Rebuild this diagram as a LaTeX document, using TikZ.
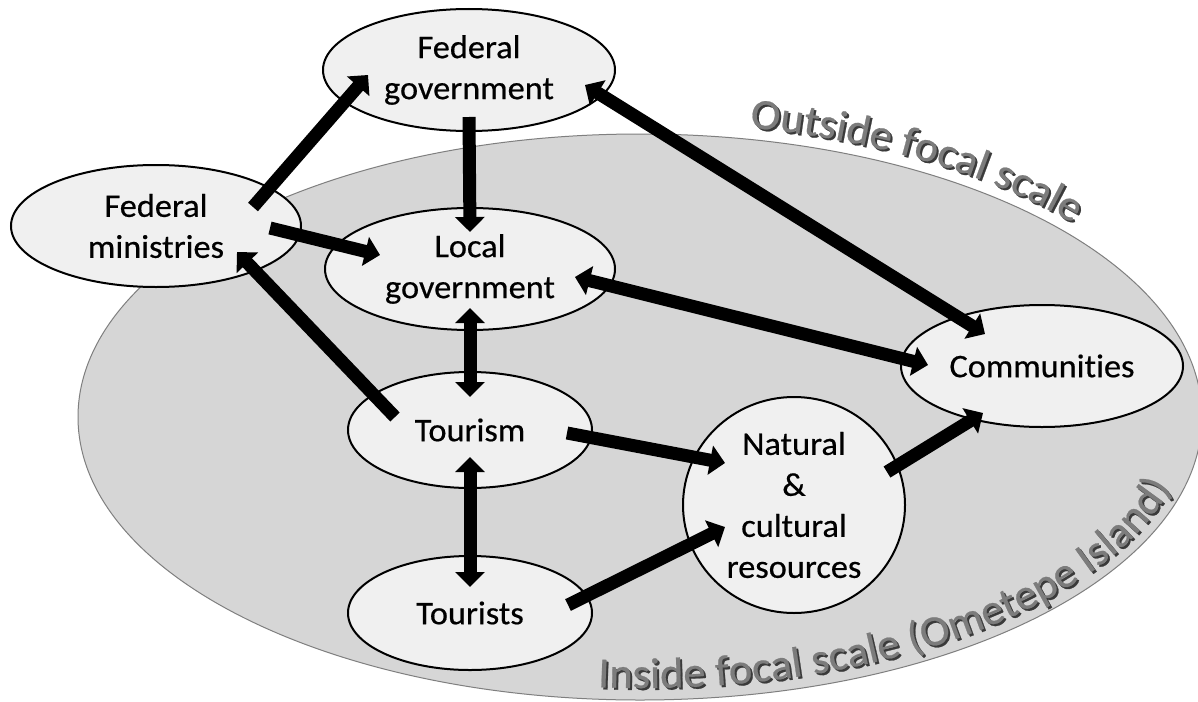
\documentclass[tikz,border=0pt]{standalone}
\usepackage{fontspec}
\setmainfont{Carlito}[FakeStretch=1.04, FakeBold=0.5, Ligatures=NoCommon]
\usetikzlibrary{arrows.meta,calc,decorations.text,shapes.geometric}
\definecolor{scalefill}{HTML}{D6D6D6}
\definecolor{scaleedge}{HTML}{7F7F7F}
\definecolor{nodefill}{HTML}{F0F0F0}
\definecolor{scaletext}{HTML}{7C7C7C}
\definecolor{shadowtext}{HTML}{3A3A3A}
\newcommand{\scalelabelfont}{\fontsize{43}{43}\selectfont}
\begin{document}
\begin{tikzpicture}[x=1pt,y=1pt,
  actor/.style={ellipse, draw=black, line width=2pt, fill=nodefill,
    inner sep=0pt, align=center, font=\fontsize{33}{41}\selectfont},
  flow/.style={line width=13pt, -{Triangle[length=15pt,width=29pt]}},
  twoway/.style={line width=13pt,
    {Triangle[length=15pt,width=29pt]}-{Triangle[length=15pt,width=29pt]}},
  outerlabel/.style={decorate, decoration={text along path,
    text={|\scalelabelfont|Outside focal scale}, text color=#1}},
  innerlabel/.style={decorate, decoration={text along path,
    text={|\scalelabelfont|Inside focal scale (Ometepe Island)}, text color=#1}},
]
\useasboundingbox (0,0) rectangle (1198,-701);
\fill[white] (0,0) rectangle (1198,-701);

% focal scale (Ometepe Island)
\node[ellipse, draw=scaleedge, line width=1pt, fill=scalefill, inner sep=0pt,
      minimum width=1124pt, minimum height=566pt] (focal) at (640,-417) {};

% scale labels with a faint drop shadow
\path[outerlabel=shadowtext, opacity=0.25, shift={(2,-2)}]
  (640,-417) ++(79:574 and 295) arc[start angle=79, end angle=5, x radius=574, y radius=295];
\path[outerlabel=scaletext]
  (640,-417) ++(79:574 and 295) arc[start angle=79, end angle=5, x radius=574, y radius=295];
\path[innerlabel=shadowtext, opacity=0.25, shift={(2,-2)}]
  (640,-417) ++(-94.4:550 and 271) arc[start angle=-94.4, end angle=30, x radius=550, y radius=271];
\path[innerlabel=scaletext]
  (640,-417) ++(-94.4:550 and 271) arc[start angle=-94.4, end angle=30, x radius=550, y radius=271];

% actors
\node[actor, minimum width=292pt, minimum height=122pt] (fg) at (469,-70) {Federal\\government};
\node[actor, minimum width=290pt, minimum height=122pt] (fm) at (156,-226) {Federal\\ministries};
\node[actor, minimum width=290pt, minimum height=122pt] (lg) at (470,-269) {Local\\government};
\node[actor, minimum width=244pt, minimum height=116pt] (tm) at (470,-430) {Tourism};
\node[actor, minimum width=244pt, minimum height=114pt] (ts) at (470,-613) {Tourists};
\node[actor, minimum width=222pt, minimum height=216pt] (nr) at (794,-505) {Natural\\\&\\cultural\\resources};
\node[actor, minimum width=282pt, minimum height=122pt] (cm) at (1042,-366) {Communities};

% influences
\draw[flow] ($(fm)+(97,19)$) -- ($(fg)+(-101,-5)$);
\draw[flow] ($(fm)+(114,-2)$) -- ($(lg)+(-90,14)$);
\draw[flow] ($(fg)+(0,-47)$) -- ($(lg)+(0,37)$);
\draw[flow] ($(tm)+(-75,13)$) -- ($(fm)+(81,-26)$);
\draw[twoway] ($(lg)+(0,-39)$) -- ($(tm)+(0,33)$);
\draw[twoway] ($(tm)+(0,-27)$) -- ($(ts)+(0,26)$);
\draw[twoway] ($(fg)+(116,-15)$) -- ($(cm)+(-57,32)$);
\draw[twoway] ($(lg)+(105,-8)$) -- ($(cm)+(-114,1)$);
\draw[flow] ($(tm)+(97,-3)$) -- ($(nr)+(-69,42)$);
\draw[flow] ($(ts)+(98,8)$) -- ($(nr)+(-69,-22)$);
\draw[flow] ($(nr)+(93,33)$) -- ($(cm)+(-59,-47)$);
\end{tikzpicture}
\end{document}
